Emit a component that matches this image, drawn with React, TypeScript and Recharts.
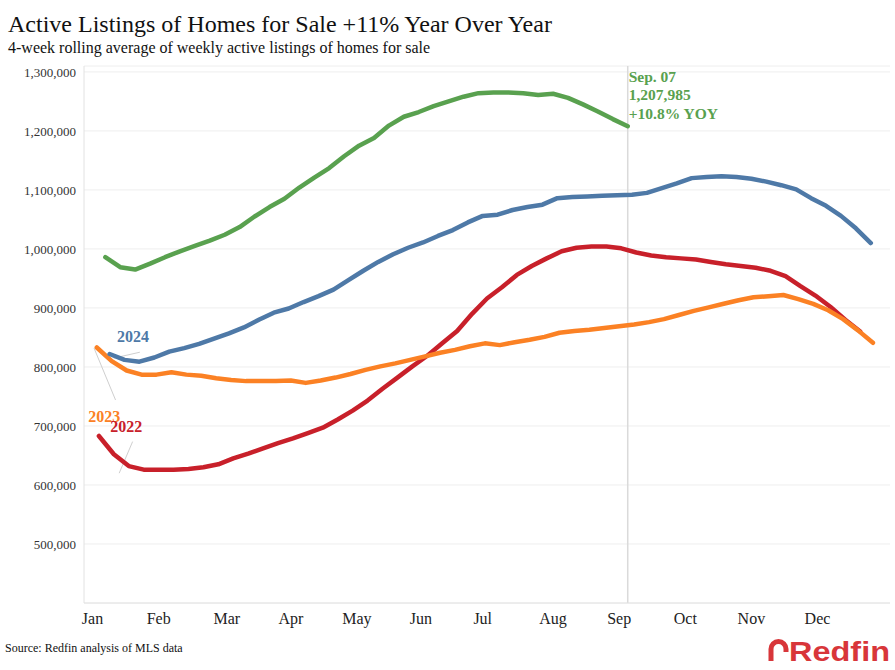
import React from "react";
import {
  LineChart,
  Line,
  XAxis,
  YAxis,
  CartesianGrid,
  ReferenceLine,
  ReferenceDot,
} from "recharts";

const SERIF = "'Liberation Serif', 'Times New Roman', Times, serif";
const GREEN = "#59a14f";
const BLUE = "#4e79a7";
const ORANGE = "#fb8124";
const RED = "#c8202a";

// x axis = day of year (Jan 1 = 0), weekly points (week ending Sunday)
const monthLabels = ["Jan", "Feb", "Mar", "Apr", "May", "Jun", "Jul", "Aug", "Sep", "Oct", "Nov", "Dec"];
const monthTickDays = [-2, 29, 61, 91, 122, 152, 181, 214, 245, 276, 307, 338];
const yTicks = [500000, 600000, 700000, 800000, 900000, 1000000, 1100000, 1200000, 1300000];

// active listings, thousands
const start2025 = 4;
const listings2025 = [
  986, 969, 965, 975, 986, 996, 1005, 1014, 1024, 1037, 1055, 1071, 1085, 1104, 1121, 1137,
  1157, 1175, 1188, 1209, 1224, 1232, 1242, 1250, 1258, 1264, 1265, 1265, 1264, 1261, 1263,
  1256, 1245, 1233, 1220, 1207.985,
];

const start2024 = 6;
const listings2024 = [
  822, 812, 809, 816, 826, 832, 839, 848, 857, 867, 880, 892, 899, 910, 920, 931, 947, 963,
  978, 991, 1002, 1011, 1022, 1032, 1045, 1056, 1058, 1066, 1071, 1075, 1086, 1088, 1089,
  1090, 1091, 1092, 1095, 1103, 1111, 1120, 1122, 1123, 1122, 1119, 1114, 1108, 1101, 1086,
  1073, 1056, 1035, 1010,
];

const start2023 = 0;
const listings2023 = [
  833, 810, 794, 787, 787, 791, 787, 785, 781, 778, 776, 776, 776, 777, 773, 777, 782, 788,
  795, 801, 806, 812, 818, 824, 829, 835, 840, 837, 842, 846, 851, 858, 861, 863, 866, 869,
  872, 876, 881, 888, 895, 901, 907, 913, 918, 920, 922, 915, 907, 896, 881, 862, 841,
];

const start2022 = 1;
const listings2022 = [
  683, 652, 632, 626, 626, 626, 627, 630, 635, 645, 653, 662, 671, 679, 688, 697, 711, 726,
  743, 763, 782, 801, 819, 840, 861, 890, 916, 935, 956, 971, 984, 996, 1002, 1004, 1004,
  1001, 994, 989, 986, 984, 982, 978, 974, 971, 968, 963, 954, 937, 921, 902, 880, 860,
];

const latestDay = 249;
const latestNote = ["Sep. 07", "1,207,985", "+10.8% YOY"];

const toPoints = (startDay: number, values: number[]) =>
  values.map((v, i) => ({ day: startDay + 7 * i, value: Math.round(v * 1000) }));

const fmt = (v: number) => v.toLocaleString("en-US");

function yearLabel(text: string, color: string) {
  return (props: any) => {
    const vb = props.viewBox || {};
    const cx = vb.x + (vb.width || 0) / 2;
    const cy = vb.y + (vb.height || 0) / 2;
    return (
      <text x={cx} y={cy} dy="0.35em" textAnchor="middle" fill={color} fontFamily={SERIF} fontSize={16} fontWeight={700}>
        {text}
      </text>
    );
  };
}

function SepLabel(props: any) {
  const vb = props.viewBox || {};
  const x = vb.x + 1;
  const y = vb.y;
  return (
    <text fill={GREEN} fontFamily={SERIF} fontSize={15.5} fontWeight={700}>
      <tspan x={x} y={y + 16}>{latestNote[0]}</tspan>
      <tspan x={x} y={y + 34}>{latestNote[1]}</tspan>
      <tspan x={x} y={y + 53}>{latestNote[2]}</tspan>
    </text>
  );
}

export default function App() {
  return (
    <div style={{ position: "absolute", left: 0, top: 0, width: 895, height: 670, background: "#fff" }}>
      <LineChart width={895} height={670} margin={{ top: 66, right: 5, bottom: 37, left: 0 }}>
        <CartesianGrid vertical={false} stroke="#eeeeee" />
        <XAxis
          dataKey="day"
          type="number"
          domain={[-6, 372]}
          allowDataOverflow
          ticks={monthTickDays}
          tickFormatter={(d: number) => monthLabels[monthTickDays.indexOf(d)] ?? ""}
          tickLine={false}
          axisLine={{ stroke: "#e2e2e2" }}
          tick={{ fill: "#222", fontSize: 16, fontFamily: SERIF }}
          tickMargin={4}
          height={30}
          interval={0}
        />
        <YAxis
          type="number"
          domain={[400000, 1310000]}
          allowDataOverflow
          ticks={yTicks}
          tickFormatter={fmt}
          tickLine={false}
          axisLine={{ stroke: "#e2e2e2" }}
          tick={{ fill: "#333", fontSize: 13, fontFamily: SERIF }}
          width={84}
          interval={0}
        />
        <ReferenceLine x={latestDay} stroke="#dadada" strokeWidth={1.5} label={<SepLabel />} />
        <ReferenceLine segment={[{ x: 20.2, y: 825000 }, { x: 8, y: 815000 }]} stroke="#cfcfcf" strokeWidth={1} />
        <ReferenceLine segment={[{ x: -1.3, y: 832000 }, { x: 8.8, y: 744000 }]} stroke="#cfcfcf" strokeWidth={1} />
        <ReferenceLine segment={[{ x: 16.8, y: 673500 }, { x: 10.5, y: 620000 }]} stroke="#cfcfcf" strokeWidth={1} />
        <Line data={toPoints(start2022, listings2022)} dataKey="value" type="linear" stroke={RED} strokeWidth={4.5} strokeLinecap="round" strokeLinejoin="round" dot={false} activeDot={false} isAnimationActive={false} />
        <Line data={toPoints(start2023, listings2023)} dataKey="value" type="linear" stroke={ORANGE} strokeWidth={4.5} strokeLinecap="round" strokeLinejoin="round" dot={false} activeDot={false} isAnimationActive={false} />
        <Line data={toPoints(start2024, listings2024)} dataKey="value" type="linear" stroke={BLUE} strokeWidth={4.5} strokeLinecap="round" strokeLinejoin="round" dot={false} activeDot={false} isAnimationActive={false} />
        <Line data={toPoints(start2025, listings2025)} dataKey="value" type="linear" stroke={GREEN} strokeWidth={4.5} strokeLinecap="round" strokeLinejoin="round" dot={false} activeDot={false} isAnimationActive={false} />
        <ReferenceDot x={17} y={852500} r={0} fill="none" stroke="none" label={yearLabel("2024", BLUE)} />
        <ReferenceDot x={3.5} y={716200} r={0} fill="none" stroke="none" label={yearLabel("2023", ORANGE)} />
        <ReferenceDot x={13.8} y={698800} r={0} fill="none" stroke="none" label={yearLabel("2022", RED)} />
      </LineChart>
      <svg width={895} height={670} style={{ position: "absolute", left: 0, top: 0, pointerEvents: "none" }}>
        <text x={8} y={32} fontFamily={SERIF} fontSize={24} fill="#111">
          Active Listings of Homes for Sale +11% Year Over Year
        </text>
        <text x={8} y={53} fontFamily={SERIF} fontSize={16} fill="#111">
          4-week rolling average of weekly active listings of homes for sale
        </text>
        <text x={5} y={652} fontFamily={SERIF} fontSize={12} fill="#111">
          Source: Redfin analysis of MLS data
        </text>
        <path d="M771 661 V649 A7.5 7.5 0 0 1 786 649 V652" fill="none" stroke="#d8363a" strokeWidth={5} />
        <text x={789} y={661} fontFamily="'Liberation Sans', Arial, sans-serif" fontSize={28} fontWeight={700} fill="#d8363a" textLength={101} lengthAdjust="spacingAndGlyphs">
          Redfin
        </text>
      </svg>
    </div>
  );
}
